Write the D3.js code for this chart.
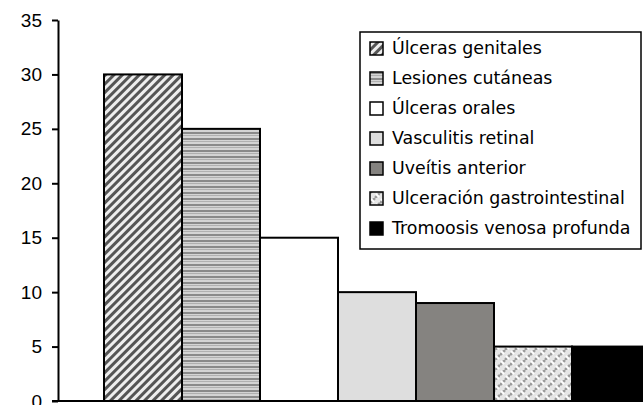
<!DOCTYPE html>
<html>
<head>
<meta charset="utf-8">
<script src="https://cdn.jsdelivr.net/npm/d3@7"></script>
<style>
  body { margin: 0; background: #fff; }
  svg { display: block; }
  .tick text { font-family: "Liberation Sans", Arial, sans-serif; font-size: 19px; fill: #000; }
  .legendText { font-family: "DejaVu Sans", sans-serif; font-size: 17.4px; fill: #000; }
</style>
</head>
<body>
<div id="chart"></div>
<script>
(function(){
  // series (one category, one bar each)
  const series = [
    "Úlceras genitales",
    "Lesiones cutáneas",
    "Úlceras orales",
    "Vasculitis retinal",
    "Uveítis anterior",
    "Ulceración gastrointestinal",
    "Tromoosis venosa profunda"
  ];
  const values = [30, 25, 15, 10, 9, 5, 5];
  const yTicks = [0, 5, 10, 15, 20, 25, 30, 35];

  const width = 643, height = 405;
  const margin = { top: 20, right: 0, bottom: 4, left: 58 };

  const svg = d3.select("#chart").append("svg")
    .attr("width", width)
    .attr("height", height);

  // patterns
  const defs = svg.append("defs");

  const diag = defs.append("pattern")
    .attr("id", "pDiag")
    .attr("patternUnits", "userSpaceOnUse")
    .attr("width", 6).attr("height", 6)
    .attr("patternTransform", "rotate(45)");
  diag.append("rect").attr("width", 6).attr("height", 6).attr("fill", "#eeeeee");
  diag.append("rect").attr("width", 3).attr("height", 6).attr("fill", "#555555");

  const horiz = defs.append("pattern")
    .attr("id", "pHoriz")
    .attr("patternUnits", "userSpaceOnUse")
    .attr("width", 8).attr("height", 6);
  horiz.append("rect").attr("width", 8).attr("height", 6).attr("fill", "#d4d4d4");
  horiz.append("rect").attr("y", 0).attr("width", 8).attr("height", 2).attr("fill", "#8a8a8a");
  horiz.append("rect").attr("y", 3).attr("width", 8).attr("height", 1).attr("fill", "#b0b0b0");

  const weave = defs.append("pattern")
    .attr("id", "pWeave")
    .attr("patternUnits", "userSpaceOnUse")
    .attr("width", 10).attr("height", 10);
  weave.append("rect").attr("width", 10).attr("height", 10).attr("fill", "#e6e6e6");
  weave.append("path").attr("d", "M0,5 L5,0 M5,10 L10,5").attr("stroke", "#9a9a9a").attr("stroke-width", 2.5);
  weave.append("path").attr("d", "M1,1 L4,4 M6,6 L9,9").attr("stroke", "#ffffff").attr("stroke-width", 2);

  const fills = ["url(#pDiag)", "url(#pHoriz)", "#ffffff", "#dedede", "#858380", "url(#pWeave)", "#000000"];

  // scales
  const y = d3.scaleLinear()
    .domain([0, 35])
    .range([height - margin.bottom, margin.top]);

  // plot area runs past the right edge of the picture
  const x0 = d3.scaleBand()
    .domain(["grupo"])
    .range([margin.left, 696])
    .paddingOuter(0.0)
    .paddingInner(0);
  const x1 = d3.scaleBand()
    .domain(series)
    .range([x0("grupo") + 46, x0("grupo") + x0.bandwidth() - 46]);

  // bars
  svg.append("g").selectAll("rect")
    .data(series)
    .enter().append("rect")
    .attr("x", d => x1(d))
    .attr("y", (d, i) => y(values[i]))
    .attr("width", x1.bandwidth())
    .attr("height", (d, i) => y(0) - y(values[i]))
    .attr("fill", (d, i) => fills[i])
    .attr("stroke", "#000")
    .attr("stroke-width", 2);

  // y axis
  const yAxis = svg.append("g")
    .attr("transform", `translate(${margin.left},0)`)
    .call(d3.axisLeft(y).tickValues(yTicks).tickSize(6).tickPadding(10).tickSizeOuter(0));
  yAxis.selectAll("line").attr("stroke", "#000").attr("stroke-width", 2);
  yAxis.select(".domain").attr("stroke", "#000").attr("stroke-width", 2);

  // x axis line (baseline)
  svg.append("line")
    .attr("x1", margin.left - 6).attr("x2", width)
    .attr("y1", y(0)).attr("y2", y(0))
    .attr("stroke", "#000").attr("stroke-width", 2);

  // legend
  const lg = svg.append("g").attr("transform", "translate(360,32)");
  lg.append("rect")
    .attr("width", 281).attr("height", 217)
    .attr("fill", "#fff")
    .attr("stroke", "#000").attr("stroke-width", 1.5);

  const rows = lg.selectAll(".row")
    .data(series)
    .enter().append("g")
    .attr("class", "row")
    .attr("transform", (d, i) => `translate(10,${16 + i * 30})`);
  rows.append("rect")
    .attr("x", 0).attr("y", -6)
    .attr("width", 13).attr("height", 13)
    .attr("fill", (d, i) => fills[i])
    .attr("stroke", "#000").attr("stroke-width", 1.5);
  rows.append("text")
    .attr("class", "legendText")
    .attr("x", 22)
    .attr("dy", "0.35em")
    .text(d => d);
})();
</script>
</body>
</html>
